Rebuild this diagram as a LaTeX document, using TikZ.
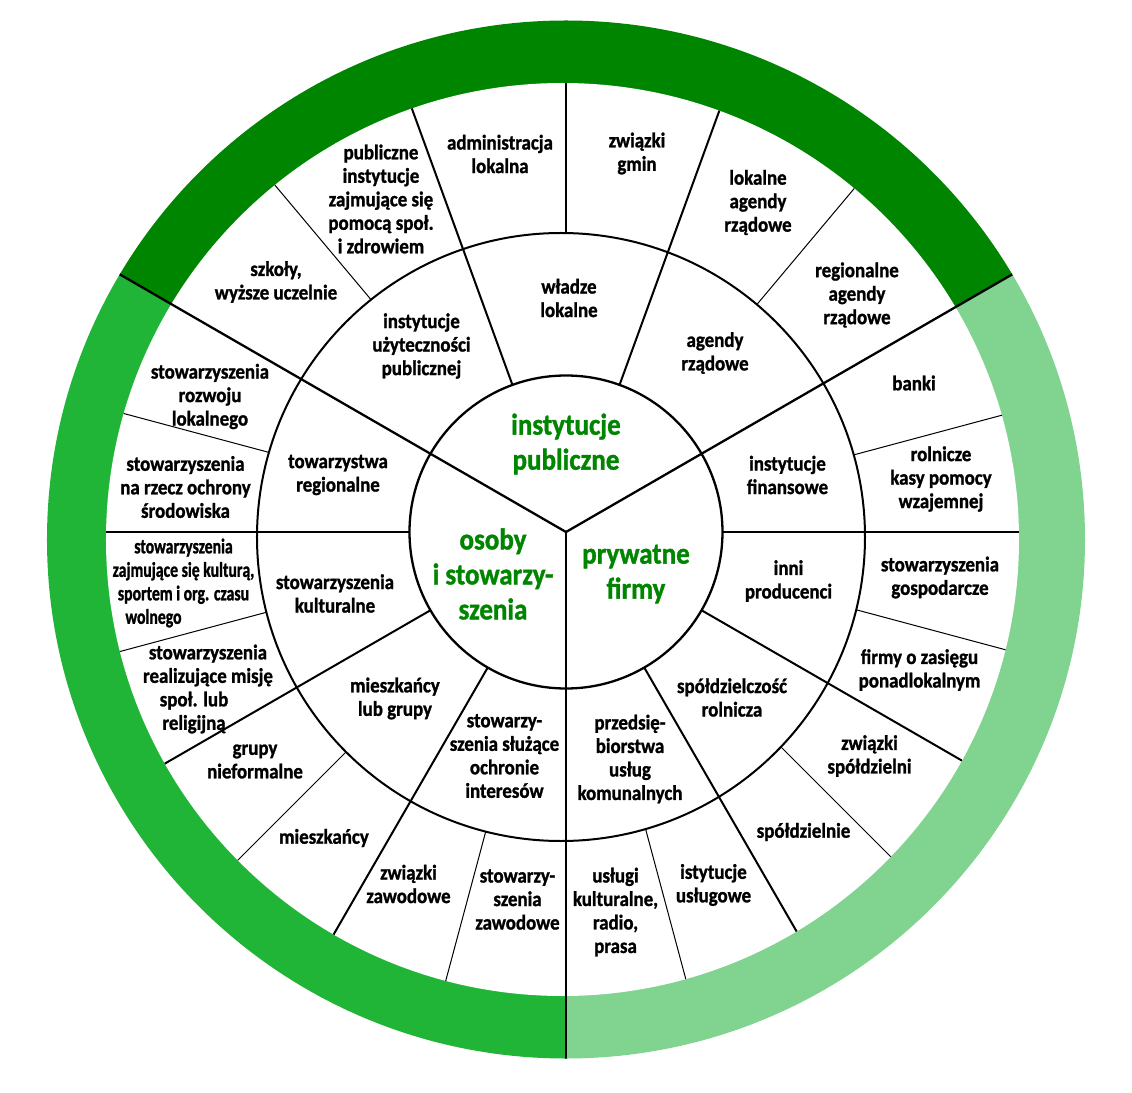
\documentclass[tikz,border=0pt]{standalone}
\usepackage{fontspec}
\setmainfont{Carlito}[FakeStretch=0.9, BoldFeatures={FakeBold=1.2}]
\newfontfamily\narrowfont{Carlito}[FakeStretch=0.75, BoldFeatures={FakeBold=1.2}]
\definecolor{ringtop}{RGB}{0,133,0}
\definecolor{ringleft}{RGB}{33,181,56}
\definecolor{ringright}{RGB}{128,212,144}

\begin{document}
\begin{tikzpicture}[x=1pt, y=1pt,
    lbl/.style={align=center, inner sep=0pt, font=\fontsize{21}{23.5}\selectfont\bfseries},
    hub/.style={align=center, inner sep=0pt, text=ringtop, font=\fontsize{30}{35}\selectfont\bfseries},
    outerline/.style={line width=1pt},
    midline/.style={line width=2pt},
    mainline/.style={line width=2.3pt}]
    \useasboundingbox (-566,-560) rectangle (566,532);
    \fill[white] (-566,-560) rectangle (566,532);
    \coordinate (o) at (0,0);
    \coordinate (gc) at (0,-7.5);
    \coordinate (wc) at (-3.5,-7.5);
    \coordinate (mc) at (-5,-5);

    \begin{scope}
        \clip (gc) circle (519pt);
        \fill[ringtop] (o) -- (30:800pt) -- (90:800pt) -- (150:800pt) -- cycle;
        \fill[ringleft] (o) -- (150:800pt) -- (210:800pt) -- (270:800pt) -- cycle;
        \fill[ringright] (o) -- (270:800pt) -- (330:800pt) -- (30:800pt) -- cycle;
    \end{scope}
    \fill[white] (wc) circle (456.5pt);
    \begin{scope}
        \clip (wc) circle (456.5pt);
        \foreach \a in {15,50,90,130,165,195,225,255,285,315,345}
            \draw[outerline] (o) -- (\a:600pt);
        \fill[white] (mc) circle (304pt);
        \foreach \a in {0,70,110,180,210,240,300,330}
            \draw[midline] (o) -- (\a:600pt);
    \end{scope}
    \draw[midline] (mc) circle (304pt);
    \filldraw[fill=white, mainline] (o) circle (156.5pt);
    \begin{scope}
        \clip (gc) circle (519pt);
        \foreach \a in {30,150,270}
            \draw[mainline] (o) -- (\a:600pt);
    \end{scope}

    \node[hub] (ip) at (0,88) {instytucje\\publiczne};
    \node[hub] (os) at (-73,-42) {osoby\\i stowarzy-\\szenia};
    \node[hub] (pf) at (70,-42) {prywatne\\firmy};

    \node[lbl] (agendy) at (149,179) {agendy\\rządowe};
    \node[lbl] (wladze) at (3,234) {władze\\lokalne};
    \node[lbl] (uzytecznosc) at (-144.5,186) {instytucje\\użyteczności\\publicznej};
    \node[lbl] (towarzystwa) at (-228,57) {towarzystwa\\regionalne};
    \node[lbl] (kulturalne) at (-231,-61.5) {stowarzyszenia\\kulturalne};
    \node[lbl] (mieszkgrupy) at (-171,-166.5) {mieszkańcy\\lub grupy};
    \node[lbl] (interesy) at (-61.5,-224) {stowarzy-\\szenia służące\\ochronie\\interesów};
    \node[lbl] (finansowe) at (221.5,57) {instytucje\\finansowe};
    \node[lbl] (producenci) at (222.5,-49) {inni\\producenci};
    \node[lbl] (rolnicza) at (166,-165.5) {spółdzielczość\\rolnicza};
    \node[lbl] (komunalne) at (64,-227) {przedsię-\\biorstwa\\usług\\komunalnych};

    \node[lbl] (regionalne) at (291,237) {regionalne\\agendy\\rządowe};
    \node[lbl] (lokalne) at (192,329.5) {lokalne\\agendy\\rządowe};
    \node[lbl] (gminy) at (71,378.5) {związki\\gmin};
    \node[lbl] (administracja) at (-66,378) {administracja\\lokalna};
    \node[lbl] (pomoc) at (-185,333) {publiczne\\instytucje\\zajmujące się\\pomocą społ.\\i zdrowiem};
    \node[lbl] (szkoly) at (-290,250) {szkoły,\\wyższe uczelnie};
    \node[lbl] (rozwoj) at (-356,135.5) {stowarzyszenia\\rozwoju\\lokalnego};
    \node[lbl] (srodowisko) at (-380.5,45) {stowarzyszenia\\na rzecz ochrony\\środowiska};
    \node[lbl, font=\narrowfont\fontsize{21}{23.5}\selectfont\bfseries] (kultura) at (-382.5,-51)
        {stowarzyszenia\\zajmujące się kulturą,\\sportem i org. czasu\\\hspace*{-60pt}wolnego};
    \node[lbl] (misja) at (-358,-157) {stowarzyszenia\\realizujące misję\\\hspace*{-28pt}społ. lub\\\hspace*{-28pt}religijną};
    \node[lbl] (grupy) at (-311,-229.5) {grupy\\nieformalne};
    \node[lbl] (mieszkancy) at (-242,-306) {mieszkańcy};
    \node[lbl] (zwzawodowe) at (-157.5,-352) {związki\\zawodowe};
    \node[lbl] (stzawodowe) at (-48.5,-367.5) {stowarzy-\\szenia\\zawodowe};

    \node[lbl] (banki) at (348,149) {banki};
    \node[lbl] (kasy) at (375,53) {rolnicze\\kasy pomocy\\wzajemnej};
    \node[lbl] (gospodarcze) at (374,-45.5) {stowarzyszenia\\gospodarcze};
    \node[lbl] (ponadlokalne) at (353.5,-138) {firmy o zasięgu\\ponadlokalnym};
    \node[lbl] (zwspoldz) at (303.5,-224) {związki\\spółdzielni};
    \node[lbl] (spoldzielnie) at (237.5,-300) {spółdzielnie};
    \node[lbl] (uslugowe) at (147.5,-353) {istytucje\\usługowe};
    \node[lbl] (media) at (49.5,-380) {usługi\\kulturalne,\\radio,\\prasa};
\end{tikzpicture}
\end{document}
